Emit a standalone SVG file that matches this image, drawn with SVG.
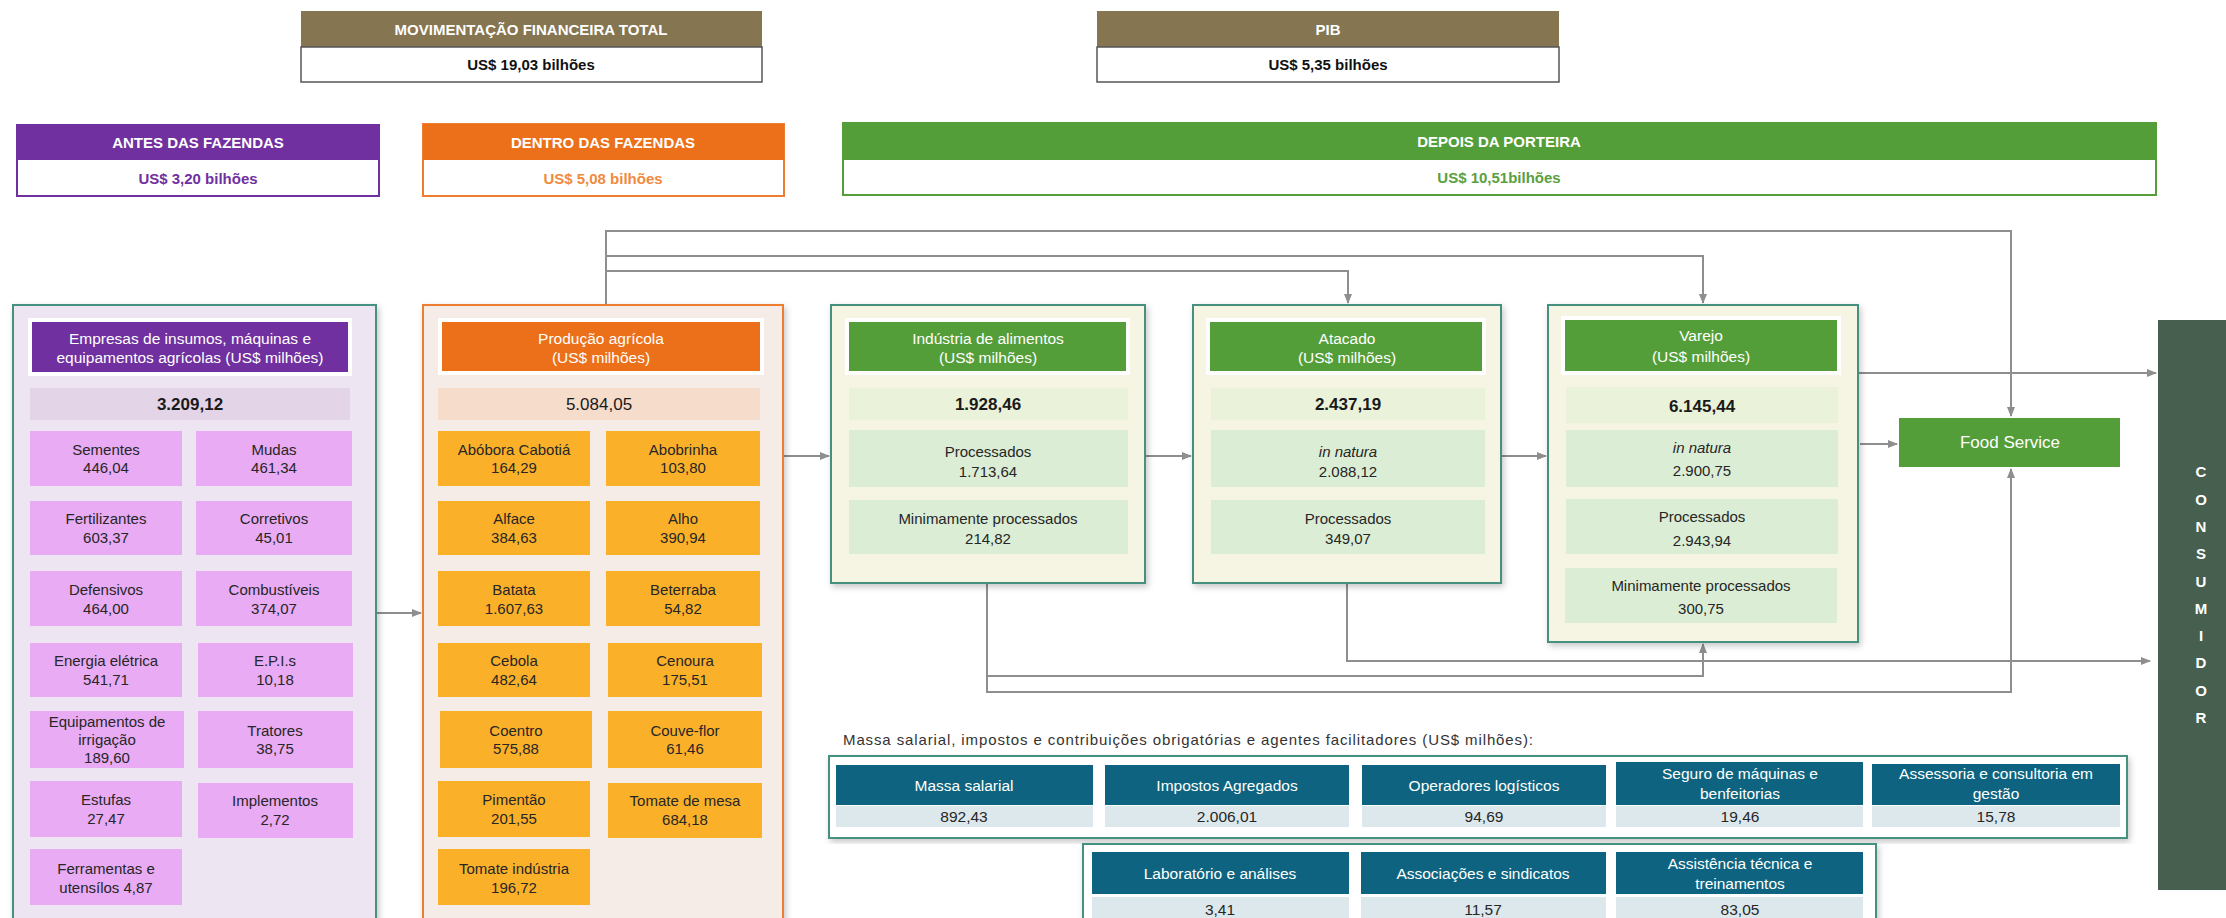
<svg xmlns="http://www.w3.org/2000/svg" width="2226" height="918" viewBox="0 0 2226 918">
<defs>
<style>
text{font-family:"Liberation Sans",Arial,sans-serif;}
.hb{font-size:15px;font-weight:bold;fill:#fff;text-anchor:middle;}
.hv{font-size:15px;font-weight:bold;text-anchor:middle;}
.ct{font-size:15.5px;fill:#fff;text-anchor:middle;}
.it{font-size:15px;fill:#262626;text-anchor:middle;}
.tot{font-size:17px;fill:#1a1a1a;text-anchor:middle;}
.b{font-weight:bold;}
.i{font-style:italic;}
.pur{fill:#e8abf4;}
.amb{fill:#fbb02a;}
.gsub{fill:#dbedd5;}
.gtot{fill:#eaf2da;}
.gcont{fill:#f6f5e4;stroke:#44907f;stroke-width:2;}
.gtitle{fill:#549e39;}
.wb{fill:#fff;}
.con{fill:none;stroke:#8e8e8e;stroke-width:2;}
.th{fill:#0e6480;}
.tv{fill:#dde8ec;}
.tht{font-size:15.5px;fill:#fff;text-anchor:middle;}
.tvt{font-size:15.5px;fill:#262626;text-anchor:middle;}
.cons{font-size:15px;font-weight:bold;fill:#fff;text-anchor:middle;}
</style>
<marker id="ar" markerWidth="10" markerHeight="10" refX="9" refY="5" orient="auto" markerUnits="userSpaceOnUse">
<path d="M0,1 L10,5 L0,9 Z" fill="#8e8e8e"/>
</marker>
<filter id="sh" x="-5%" y="-5%" width="112%" height="112%">
<feDropShadow dx="2" dy="3" stdDeviation="3" flood-color="#000" flood-opacity="0.22"/>
</filter>
</defs>

<!-- Top summary boxes -->
<g id="movimentacao">
<rect x="301" y="11" width="461" height="36" fill="#857551"/>
<rect x="301" y="47" width="461" height="35" fill="#fff" stroke="#555" stroke-width="1.5"/>
<text class="hb" x="531" y="35">MOVIMENTAÇÃO FINANCEIRA TOTAL</text>
<text class="hv" x="531" y="70" fill="#111">US$ 19,03 bilhões</text>
</g>
<g id="pib">
<rect x="1097" y="11" width="462" height="36" fill="#857551"/>
<rect x="1097" y="47" width="462" height="35" fill="#fff" stroke="#555" stroke-width="1.5"/>
<text class="hb" x="1328" y="35">PIB</text>
<text class="hv" x="1328" y="70" fill="#111">US$ 5,35 bilhões</text>
</g>
<g id="antes">
<rect x="17" y="125" width="362" height="71" fill="#fff" stroke="#7030a0" stroke-width="2"/>
<rect x="17" y="125" width="362" height="35" fill="#7030a0"/>
<text class="hb" x="198" y="148">ANTES DAS FAZENDAS</text>
<text class="hv" x="198" y="184" fill="#7030a0">US$ 3,20 bilhões</text>
</g>
<g id="dentro">
<rect x="423" y="124" width="361" height="72" fill="#fff" stroke="#ed7d31" stroke-width="2"/>
<rect x="423" y="124" width="361" height="36" fill="#ec7019"/>
<text class="hb" x="603" y="148">DENTRO DAS FAZENDAS</text>
<text class="hv" x="603" y="184" fill="#f08a3e">US$ 5,08 bilhões</text>
</g>
<g id="depois">
<rect x="843" y="123" width="1313" height="72" fill="#fff" stroke="#549e39" stroke-width="2"/>
<rect x="843" y="123" width="1313" height="37" fill="#549e39"/>
<text class="hb" x="1499" y="147">DEPOIS DA PORTEIRA</text>
<text class="hv" x="1499" y="183" fill="#5aa040">US$ 10,51bilhões</text>
</g>

<!-- Connectors -->
<g id="connectors">
<path class="con" d="M376,613 H421" marker-end="url(#ar)"/>
<path class="con" d="M783,456 H829" marker-end="url(#ar)"/>
<path class="con" d="M1145,456 H1191" marker-end="url(#ar)"/>
<path class="con" d="M1501,456 H1546" marker-end="url(#ar)"/>
<path class="con" d="M606,305 V231 H2011 V416" marker-end="url(#ar)"/>
<path class="con" d="M606,256 H1703 V303" marker-end="url(#ar)"/>
<path class="con" d="M606,271 H1348 V303" marker-end="url(#ar)"/>
<path class="con" d="M1858,373 H2156" marker-end="url(#ar)"/>
<path class="con" d="M1860,444 H1897" marker-end="url(#ar)"/>
<path class="con" d="M1347,583 V661 H2150" marker-end="url(#ar)"/>
<path class="con" d="M987,583 V692 H2011 V469" marker-end="url(#ar)"/>
<path class="con" d="M987,676 H1703 V644" marker-end="url(#ar)"/>
</g>

<!-- Empresas de insumos -->
<g id="insumos">
<rect x="13" y="305" width="363" height="625" fill="#eee5f2" stroke="#44907f" stroke-width="2" filter="url(#sh)"/>
<rect x="28" y="318" width="324" height="58" fill="#fff"/>
<rect x="32" y="322" width="316" height="50" fill="#7030a0"/>
<text class="ct"><tspan x="190" y="344">Empresas de insumos, máquinas e</tspan><tspan x="190" y="363">equipamentos agrícolas (US$ milhões)</tspan></text>
<rect x="30" y="388" width="320" height="32" fill="#e4d4e8"/>
<text class="tot b" x="190" y="410">3.209,12</text>
</g>
<g id="sementes"><rect class="pur" x="30" y="431" width="152" height="55"/><text class="it"><tspan x="106" y="455">Sementes</tspan><tspan x="106" y="473">446,04</tspan></text></g>
<g id="mudas"><rect class="pur" x="196" y="431" width="156" height="55"/><text class="it"><tspan x="274" y="455">Mudas</tspan><tspan x="274" y="473">461,34</tspan></text></g>
<g id="fertilizantes"><rect class="pur" x="30" y="501" width="152" height="54"/><text class="it"><tspan x="106" y="524">Fertilizantes</tspan><tspan x="106" y="543">603,37</tspan></text></g>
<g id="corretivos"><rect class="pur" x="196" y="501" width="156" height="54"/><text class="it"><tspan x="274" y="524">Corretivos</tspan><tspan x="274" y="543">45,01</tspan></text></g>
<g id="defensivos"><rect class="pur" x="30" y="571" width="152" height="55"/><text class="it"><tspan x="106" y="595">Defensivos</tspan><tspan x="106" y="614">464,00</tspan></text></g>
<g id="combustiveis"><rect class="pur" x="196" y="571" width="156" height="55"/><text class="it"><tspan x="274" y="595">Combustíveis</tspan><tspan x="274" y="614">374,07</tspan></text></g>
<g id="energia"><rect class="pur" x="30" y="643" width="152" height="54"/><text class="it"><tspan x="106" y="666">Energia elétrica</tspan><tspan x="106" y="685">541,71</tspan></text></g>
<g id="epis"><rect class="pur" x="198" y="643" width="155" height="54"/><text class="it"><tspan x="275" y="666">E.P.I.s</tspan><tspan x="275" y="685">10,18</tspan></text></g>
<g id="irrigacao"><rect class="pur" x="30" y="711" width="154" height="57"/><text class="it"><tspan x="107" y="727">Equipamentos de</tspan><tspan x="107" y="745">irrigação</tspan><tspan x="107" y="763">189,60</tspan></text></g>
<g id="tratores"><rect class="pur" x="198" y="711" width="155" height="57"/><text class="it"><tspan x="275" y="736">Tratores</tspan><tspan x="275" y="754">38,75</tspan></text></g>
<g id="estufas"><rect class="pur" x="30" y="781" width="152" height="56"/><text class="it"><tspan x="106" y="805">Estufas</tspan><tspan x="106" y="824">27,47</tspan></text></g>
<g id="implementos"><rect class="pur" x="198" y="783" width="155" height="55"/><text class="it"><tspan x="275" y="806">Implementos</tspan><tspan x="275" y="825">2,72</tspan></text></g>
<g id="ferramentas"><rect class="pur" x="30" y="849" width="152" height="56"/><text class="it"><tspan x="106" y="874">Ferramentas e</tspan><tspan x="106" y="893">utensílos 4,87</tspan></text></g>

<!-- Produção agrícola -->
<g id="producao">
<rect x="423" y="305" width="360" height="625" fill="#f6ece7" stroke="#ed7d31" stroke-width="2" filter="url(#sh)"/>
<rect x="438" y="318" width="326" height="57" fill="#fff"/>
<rect x="442" y="322" width="318" height="49" fill="#ec7019"/>
<text class="ct"><tspan x="601" y="344">Produção agrícola</tspan><tspan x="601" y="363">(US$ milhões)</tspan></text>
<rect x="438" y="388" width="322" height="32" fill="#f6dccb"/>
<text class="tot" x="599" y="410">5.084,05</text>
</g>
<g id="abobora"><rect class="amb" x="438" y="431" width="152" height="55"/><text class="it"><tspan x="514" y="455">Abóbora Cabotiá</tspan><tspan x="514" y="473">164,29</tspan></text></g>
<g id="abobrinha"><rect class="amb" x="606" y="431" width="154" height="55"/><text class="it"><tspan x="683" y="455">Abobrinha</tspan><tspan x="683" y="473">103,80</tspan></text></g>
<g id="alface"><rect class="amb" x="438" y="501" width="152" height="54"/><text class="it"><tspan x="514" y="524">Alface</tspan><tspan x="514" y="543">384,63</tspan></text></g>
<g id="alho"><rect class="amb" x="606" y="501" width="154" height="54"/><text class="it"><tspan x="683" y="524">Alho</tspan><tspan x="683" y="543">390,94</tspan></text></g>
<g id="batata"><rect class="amb" x="438" y="571" width="152" height="55"/><text class="it"><tspan x="514" y="595">Batata</tspan><tspan x="514" y="614">1.607,63</tspan></text></g>
<g id="beterraba"><rect class="amb" x="606" y="571" width="154" height="55"/><text class="it"><tspan x="683" y="595">Beterraba</tspan><tspan x="683" y="614">54,82</tspan></text></g>
<g id="cebola"><rect class="amb" x="438" y="643" width="152" height="54"/><text class="it"><tspan x="514" y="666">Cebola</tspan><tspan x="514" y="685">482,64</tspan></text></g>
<g id="cenoura"><rect class="amb" x="608" y="643" width="154" height="54"/><text class="it"><tspan x="685" y="666">Cenoura</tspan><tspan x="685" y="685">175,51</tspan></text></g>
<g id="coentro"><rect class="amb" x="440" y="711" width="152" height="57"/><text class="it"><tspan x="516" y="736">Coentro</tspan><tspan x="516" y="754">575,88</tspan></text></g>
<g id="couveflor"><rect class="amb" x="608" y="711" width="154" height="57"/><text class="it"><tspan x="685" y="736">Couve-flor</tspan><tspan x="685" y="754">61,46</tspan></text></g>
<g id="pimentao"><rect class="amb" x="438" y="781" width="152" height="56"/><text class="it"><tspan x="514" y="805">Pimentão</tspan><tspan x="514" y="824">201,55</tspan></text></g>
<g id="tomatemesa"><rect class="amb" x="608" y="783" width="154" height="55"/><text class="it"><tspan x="685" y="806">Tomate de mesa</tspan><tspan x="685" y="825">684,18</tspan></text></g>
<g id="tomateindustria"><rect class="amb" x="438" y="849" width="152" height="56"/><text class="it"><tspan x="514" y="874">Tomate indústria</tspan><tspan x="514" y="893">196,72</tspan></text></g>

<!-- Indústria de alimentos -->
<g id="industria">
<rect class="gcont" x="831" y="305" width="314" height="278" filter="url(#sh)"/>
<rect class="wb" x="845" y="318" width="285" height="57"/>
<rect class="gtitle" x="849" y="322" width="277" height="49"/>
<text class="ct"><tspan x="988" y="344">Indústria de alimentos</tspan><tspan x="988" y="363">(US$ milhões)</tspan></text>
<rect class="gtot" x="849" y="388" width="279" height="32"/>
<text class="tot b" x="988" y="410">1.928,46</text>
<rect class="gsub" x="849" y="430" width="279" height="57"/>
<text class="it"><tspan x="988" y="457">Processados</tspan><tspan x="988" y="477">1.713,64</tspan></text>
<rect class="gsub" x="849" y="500" width="279" height="54"/>
<text class="it"><tspan x="988" y="524">Minimamente processados</tspan><tspan x="988" y="544">214,82</tspan></text>
</g>

<!-- Atacado -->
<g id="atacado">
<rect class="gcont" x="1193" y="305" width="308" height="278" filter="url(#sh)"/>
<rect class="wb" x="1206" y="318" width="280" height="57"/>
<rect class="gtitle" x="1210" y="322" width="272" height="49"/>
<text class="ct"><tspan x="1347" y="344">Atacado</tspan><tspan x="1347" y="363">(US$ milhões)</tspan></text>
<rect class="gtot" x="1211" y="388" width="274" height="32"/>
<text class="tot b" x="1348" y="410">2.437,19</text>
<rect class="gsub" x="1211" y="430" width="274" height="57"/>
<text class="it"><tspan x="1348" y="457" class="i">in natura</tspan><tspan x="1348" y="477">2.088,12</tspan></text>
<rect class="gsub" x="1211" y="500" width="274" height="54"/>
<text class="it"><tspan x="1348" y="524">Processados</tspan><tspan x="1348" y="544">349,07</tspan></text>
</g>

<!-- Varejo -->
<g id="varejo">
<rect class="gcont" x="1548" y="305" width="310" height="337" filter="url(#sh)"/>
<rect class="wb" x="1561" y="316" width="280" height="59"/>
<rect class="gtitle" x="1565" y="320" width="272" height="51"/>
<text class="ct"><tspan x="1701" y="341">Varejo</tspan><tspan x="1701" y="362">(US$ milhões)</tspan></text>
<rect class="gtot" x="1566" y="387" width="272" height="36"/>
<text class="tot b" x="1702" y="412">6.145,44</text>
<rect class="gsub" x="1566" y="430" width="272" height="57"/>
<text class="it"><tspan x="1702" y="453" class="i">in natura</tspan><tspan x="1702" y="476">2.900,75</tspan></text>
<rect class="gsub" x="1566" y="499" width="272" height="55"/>
<text class="it"><tspan x="1702" y="522">Processados</tspan><tspan x="1702" y="546">2.943,94</tspan></text>
<rect class="gsub" x="1565" y="568" width="272" height="55"/>
<text class="it"><tspan x="1701" y="591">Minimamente processados</tspan><tspan x="1701" y="614">300,75</tspan></text>
</g>

<!-- Food Service -->
<g id="foodservice">
<rect class="gtitle" x="1899" y="418" width="221" height="49"/>
<text class="ct" x="2010" y="448" style="font-size:17px">Food Service</text>
</g>

<!-- Consumidor -->
<g id="consumidor">
<rect x="2158" y="320" width="68" height="570" fill="#465f4f"/>
<text class="cons" x="2201" y="477">C</text>
<text class="cons" x="2201" y="505">O</text>
<text class="cons" x="2201" y="532">N</text>
<text class="cons" x="2201" y="559">S</text>
<text class="cons" x="2201" y="587">U</text>
<text class="cons" x="2201" y="614">M</text>
<text class="cons" x="2201" y="641">I</text>
<text class="cons" x="2201" y="668">D</text>
<text class="cons" x="2201" y="696">O</text>
<text class="cons" x="2201" y="723">R</text>
</g>

<!-- Massa salarial etc. -->
<text x="843" y="745" style="font-size:15px;fill:#333" textLength="690" lengthAdjust="spacing">Massa salarial, impostos e contribuições obrigatórias e agentes facilitadores (US$ milhões):</text>

<g id="painel1">
<rect x="829" y="756" width="1298" height="82" fill="#fff" stroke="#44907f" stroke-width="2" filter="url(#sh)"/>
</g>
<g id="massasalarial"><rect class="th" x="836" y="765" width="257" height="40"/><rect class="tv" x="836" y="806" width="257" height="21"/><text class="tht" x="964" y="791">Massa salarial</text><text class="tvt" x="964" y="822">892,43</text></g>
<g id="impostos"><rect class="th" x="1105" y="765" width="244" height="40"/><rect class="tv" x="1105" y="806" width="244" height="21"/><text class="tht" x="1227" y="791">Impostos Agregados</text><text class="tvt" x="1227" y="822">2.006,01</text></g>
<g id="operadores"><rect class="th" x="1362" y="765" width="244" height="40"/><rect class="tv" x="1362" y="806" width="244" height="21"/><text class="tht" x="1484" y="791">Operadores logísticos</text><text class="tvt" x="1484" y="822">94,69</text></g>
<g id="seguro"><rect class="th" x="1616" y="762" width="247" height="43"/><rect class="tv" x="1616" y="806" width="247" height="21"/><text class="tht"><tspan x="1740" y="779">Seguro de máquinas e</tspan><tspan x="1740" y="799">benfeitorias</tspan></text><text class="tvt" x="1740" y="822">19,46</text></g>
<g id="assessoria"><rect class="th" x="1872" y="764" width="248" height="41"/><rect class="tv" x="1872" y="806" width="248" height="21"/><text class="tht"><tspan x="1996" y="779">Assessoria e consultoria em</tspan><tspan x="1996" y="799">gestão</tspan></text><text class="tvt" x="1996" y="822">15,78</text></g>

<g id="painel2">
<rect x="1083" y="844" width="793" height="90" fill="#fff" stroke="#44907f" stroke-width="2" filter="url(#sh)"/>
</g>
<g id="laboratorio"><rect class="th" x="1092" y="852" width="257" height="42"/><rect class="tv" x="1092" y="897" width="257" height="22"/><text class="tht" x="1220" y="879">Laboratório e análises</text><text class="tvt" x="1220" y="915">3,41</text></g>
<g id="associacoes"><rect class="th" x="1361" y="852" width="245" height="42"/><rect class="tv" x="1361" y="897" width="245" height="22"/><text class="tht" x="1483" y="879">Associações e sindicatos</text><text class="tvt" x="1483" y="915">11,57</text></g>
<g id="assistencia"><rect class="th" x="1616" y="852" width="247" height="42"/><rect class="tv" x="1616" y="897" width="247" height="22"/><text class="tht"><tspan x="1740" y="869">Assistência técnica e</tspan><tspan x="1740" y="889">treinamentos</tspan></text><text class="tvt" x="1740" y="915">83,05</text></g>
</svg>
